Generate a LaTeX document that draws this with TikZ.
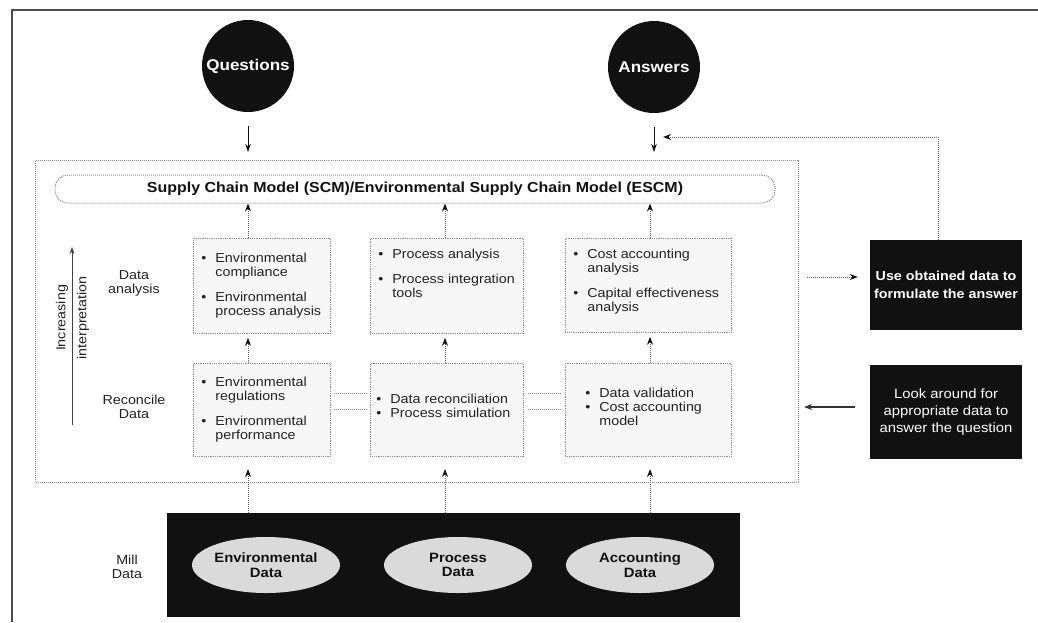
\documentclass[tikz,border=0pt]{standalone}
\usepackage{fontspec}
\setmainfont{Liberation Sans}[FakeStretch=1.1]
\usetikzlibrary{arrows.meta,shapes.geometric,calc}

\definecolor{ink}{HTML}{111111}
\definecolor{rule}{HTML}{8C8C8C}
\definecolor{paper}{HTML}{F7F7F7}
\definecolor{oval}{HTML}{DADADA}
\definecolor{txt}{HTML}{222222}

% bulleted line with hanging indent
\newcommand\bitem[1]{\par\noindent\hangindent=14pt\hangafter=1\makebox[14pt][l]{\textbullet}#1\par}
\newcommand\gap{\vspace{11pt}}

\begin{document}
\begin{tikzpicture}[x=1pt,y=-1pt,
  every node/.style={font=\fontsize{13}{14}\selectfont, text=txt},
  disc/.style={circle, fill=ink, minimum size=92pt, inner sep=0pt,
    text=white, font=\fontsize{15.5}{17}\selectfont\bfseries},
  cell/.style={draw=rule, densely dotted, line width=0.8pt, fill=paper,
    inner sep=0pt, anchor=north west},
  darkbox/.style={fill=ink, inner sep=0pt, text=white, align=center},
  blob/.style={ellipse, fill=oval, minimum width=148pt, minimum height=56pt,
    inner sep=0pt, align=center, text=ink,
    font=\fontsize{13.5}{14.5}\selectfont\bfseries},
  sidelabel/.style={align=center, font=\fontsize{13}{14}\selectfont, text=txt},
  down/.style={draw=ink, line width=0.9pt, -{Stealth[length=8pt,width=5.5pt]}},
  up/.style={draw=rule!70!black, densely dotted, line width=1pt,
    -{Stealth[length=8pt,width=6pt,color=ink]}},
  link/.style={draw=rule, densely dotted, line width=1pt}
]
\useasboundingbox (0,0) rectangle (1038,622);

% page frame
\draw[ink!75, line width=1.6pt] (12,622) -- (12,10) -- (1038,10);

% column guides
\coordinate (c1) at (248,0);
\coordinate (c2) at (445,0);
\coordinate (c3) at (650,0);

% question and answer discs
\node[disc] (Q) at (248,66) {Questions};
\node[disc] (A) at (654,67) {Answers};

% model frame
\node[draw=rule, densely dotted, line width=1pt, minimum width=763pt,
  minimum height=322pt, inner sep=0pt, anchor=north west] (main) at (35,160) {};

% model banner
\node[draw=rule, densely dotted, line width=1pt, rounded corners=13pt,
  minimum width=720pt, minimum height=28pt, inner sep=0pt,
  font=\fontsize{14.5}{15}\selectfont\bfseries, text=ink] (scm) at (415,189)
  {Supply Chain Model (SCM)/Environmental Supply Chain Model (ESCM)};

% data analysis row
\node[cell] (A1) at (193,238) {\parbox[c][95pt][c]{137pt}{\leftskip=8pt\rightskip=0pt plus 1fil
  \bitem{Environmental compliance}\gap\bitem{Environmental process analysis}}};
\node[cell] (A2) at (370,238) {\parbox[c][95pt][t]{153pt}{\vspace{11pt}\leftskip=8pt\rightskip=0pt plus 1fil
  \bitem{Process analysis}\gap\bitem{Process integration tools}}};
\node[cell] (A3) at (565,238) {\parbox[c][94pt][t]{166pt}{\vspace{11pt}\leftskip=8pt\rightskip=0pt plus 1fil
  \bitem{Cost accounting analysis}\gap\bitem{Capital effectiveness analysis}}};

% reconcile row
\node[cell] (R1) at (193,363) {\parbox[c][93pt][c]{137pt}{\leftskip=8pt\rightskip=0pt plus 1fil
  \bitem{Environmental regulations}\gap\bitem{Environmental performance}}};
\node[cell] (R2) at (370,363) {\parbox[c][93pt][c]{153pt}{\leftskip=6pt\rightskip=0pt plus 1fil
  \bitem{Data reconciliation}\bitem{Process simulation}\vspace{8pt}}};
\node[cell] (R3) at (565,363) {\parbox[c][93pt][c]{166pt}{\leftskip=20pt\rightskip=0pt plus 1fil
  \bitem{Data validation}\bitem{Cost accounting model}\vspace{6pt}}};

% side labels
\node[sidelabel] (lda) at (134,283) {Data\\analysis};
\node[sidelabel] (lrd) at (134,407) {Reconcile\\Data};
\node[sidelabel] (lmd) at (127,567) {Mill\\Data};

% interpretation axis
\coordinate (ax0) at (72,425);
\coordinate (ax1) at (72,247);
\draw[draw=ink!80, line width=0.9pt, -{Stealth[length=7pt,width=5pt]}] (ax0) -- (ax1);
\node[rotate=90] (inc) at (62,318) {Increasing};
\node[rotate=90] (itp) at (83,318) {interpretation};

% mill data
\node[fill=ink, minimum width=573pt, minimum height=104pt, inner sep=0pt,
  anchor=north west] (mill) at (167,513) {};
\node[blob] (ed) at (266,565) {Environmental\\Data};
\node[blob] (pd) at (458,565) {Process\\Data};
\node[blob] (ad) at (640,565) {Accounting\\Data};

% action boxes
\node[darkbox, minimum width=152pt, minimum height=90pt,
  font=\fontsize{13}{18}\selectfont\bfseries] (use) at (946,285)
  {Use obtained data to\\formulate the answer};
\node[darkbox, minimum width=152pt, minimum height=94pt,
  font=\fontsize{13.5}{17}\selectfont] (look) at (946,412)
  {Look around for\\appropriate data to\\answer the question};

% entry arrows
\draw[down] (Q.south) ++(0,14) coordinate (qs) (qs) -- ($(qs |- main.north)+(0,-8)$);
\draw[down] (A.south) ++(0,14) coordinate (as) (as) -- ($(as |- main.north)+(0,-8)$);

% vertical flow through the model
\foreach \c/\lo/\hi in {c1/R1/A1, c2/R2/A2, c3/R3/A3}{
  \draw[up] (\hi.north -| \c) -- (scm.south -| \c);
  \draw[up] (\lo.north -| \c) -- ($(\hi.south -| \c)+(0,4)$);
  \draw[up] (mill.north -| \c) -- ($(main.south -| \c)+(0,-14)$);
}

% paired links between reconcile boxes
\coordinate (ya) at (0,393);
\coordinate (yb) at (0,409);
\foreach \y in {ya,yb}{
  \draw[link] ($(R1.east |- \y)+(3,0)$) -- ($(R2.west |- \y)+(-4,0)$);
  \draw[link] ($(R2.east |- \y)+(4,0)$) -- ($(R3.west |- \y)+(-4,0)$);
}

% exchange with the action boxes
\coordinate (uo) at (807,277);
\draw[up] (uo) -- ($(uo -| use.west)+(-12,0)$);
\coordinate (lk) at (855,407);
\draw[draw=ink!85, line width=1.3pt, -{Stealth[length=8pt,width=6pt]}]
  (lk) -- ($(lk -| main.east)+(5,0)$);
\coordinate (fb) at (938,137);
\coordinate (fbend) at (663,137);
\draw[up] (use.north -| fb) -- (fb) -- (fbend);
\end{tikzpicture}
\end{document}
